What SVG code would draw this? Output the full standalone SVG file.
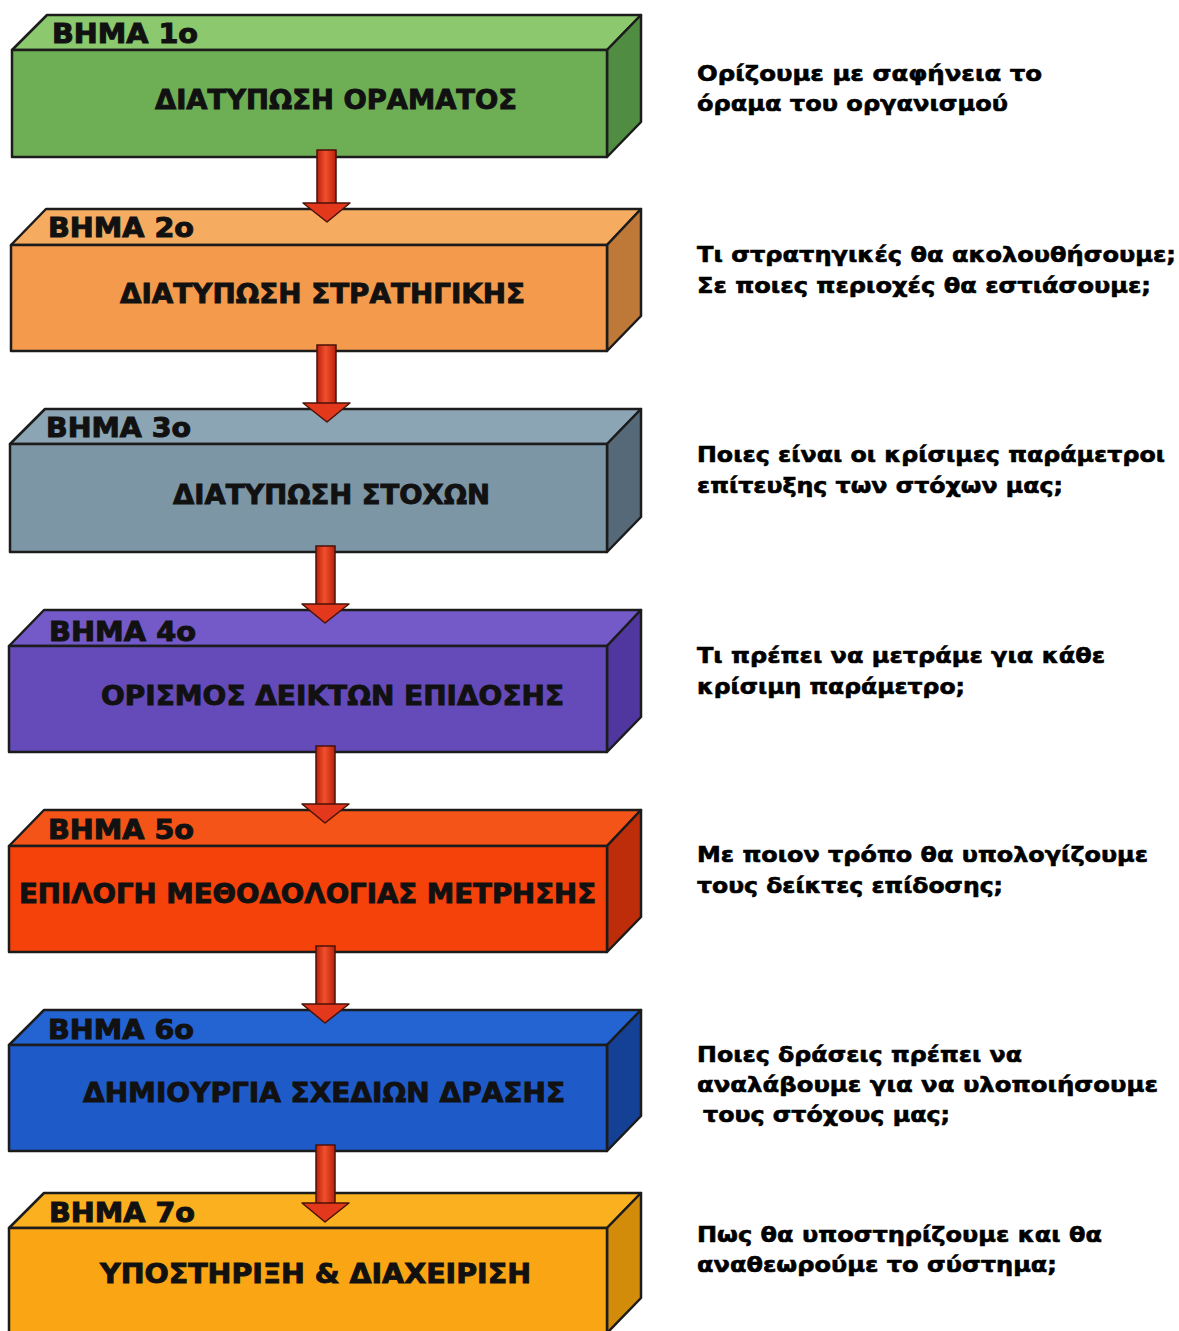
<svg xmlns="http://www.w3.org/2000/svg" width="1179" height="1331" viewBox="0 0 1179 1331">
  <defs>
    <linearGradient id="shaftGrad" x1="0" y1="0" x2="1" y2="0">
      <stop offset="0" stop-color="#b8200c"/>
      <stop offset="0.45" stop-color="#f2502c"/>
      <stop offset="1" stop-color="#b8200c"/>
    </linearGradient>
  </defs>
  <style>
    .edge { stroke: #1c1c1c; stroke-width: 2.5; stroke-linejoin: round; }
    .step { font-family: "DejaVu Sans", "Liberation Sans", sans-serif; font-weight: bold; font-size: 27px; fill: #111; stroke: #111; stroke-width: 1; }
    .title { font-family: "DejaVu Sans", "Liberation Sans", sans-serif; font-weight: bold; font-size: 26px; fill: #111; stroke: #111; stroke-width: 0.9; }
    .note { font-family: "DejaVu Sans", "Liberation Sans", sans-serif; font-weight: bold; font-size: 21px; fill: #000; stroke: #000; stroke-width: 0.6; }
    .shaft { fill: url(#shaftGrad); stroke: #4a1208; stroke-width: 1.5; }
    .head { fill: #e4381c; stroke: #4a1208; stroke-width: 1.5; stroke-linejoin: round; }
  </style>

  <rect width="1179" height="1331" fill="#ffffff"/>

  <!-- Step 1 -->
  <g id="step1">
    <polygon class="edge" fill="#8cc86e" points="12,50 47,15 641,15 607,50"/>
    <polygon class="edge" fill="#508c41" points="607,50 641,15 641,122 607,157"/>
    <rect class="edge" fill="#6eaf55" x="12" y="50" width="595" height="107"/>
    <text class="step" x="52" y="43" textLength="146" lengthAdjust="spacingAndGlyphs">ΒΗΜΑ 1ο</text>
    <text class="title" x="155" y="109" textLength="362" lengthAdjust="spacingAndGlyphs">ΔΙΑΤΥΠΩΣΗ ΟΡΑΜΑΤΟΣ</text>
  </g>

  <!-- Step 2 -->
  <g id="step2">
    <polygon class="edge" fill="#f5ac60" points="11,245 46,209 641,209 607,245"/>
    <polygon class="edge" fill="#be7838" points="607,245 641,209 641,316 607,351"/>
    <rect class="edge" fill="#f39a4c" x="11" y="245" width="596" height="106"/>
    <text class="step" x="48" y="237" textLength="146" lengthAdjust="spacingAndGlyphs">ΒΗΜΑ 2ο</text>
    <text class="title" x="120" y="303" textLength="405" lengthAdjust="spacingAndGlyphs">ΔΙΑΤΥΠΩΣΗ ΣΤΡΑΤΗΓΙΚΗΣ</text>
  </g>

  <!-- Step 3 -->
  <g id="step3">
    <polygon class="edge" fill="#8ca5b4" points="10,444 45,409 641,409 607,444"/>
    <polygon class="edge" fill="#556978" points="607,444 641,409 641,517 607,552"/>
    <rect class="edge" fill="#7d96a5" x="10" y="444" width="597" height="108"/>
    <text class="step" x="46" y="437" textLength="145" lengthAdjust="spacingAndGlyphs">ΒΗΜΑ 3ο</text>
    <text class="title" x="173" y="504" textLength="317" lengthAdjust="spacingAndGlyphs">ΔΙΑΤΥΠΩΣΗ ΣΤΟΧΩΝ</text>
  </g>

  <!-- Step 4 -->
  <g id="step4">
    <polygon class="edge" fill="#735ac8" points="9,646 44,610 641,610 607,646"/>
    <polygon class="edge" fill="#5037a0" points="607,646 641,610 641,717 607,752"/>
    <rect class="edge" fill="#644bb9" x="9" y="646" width="598" height="106"/>
    <text class="step" x="49" y="641" textLength="147" lengthAdjust="spacingAndGlyphs">ΒΗΜΑ 4ο</text>
    <text class="title" x="101" y="705" textLength="463" lengthAdjust="spacingAndGlyphs">ΟΡΙΣΜΟΣ ΔΕΙΚΤΩΝ ΕΠΙΔΟΣΗΣ</text>
  </g>

  <!-- Step 5 -->
  <g id="step5">
    <polygon class="edge" fill="#f55418" points="9,846 44,810 641,810 607,846"/>
    <polygon class="edge" fill="#be2d0a" points="607,846 641,810 641,917 607,952"/>
    <rect class="edge" fill="#f5410a" x="9" y="846" width="598" height="106"/>
    <text class="step" x="48" y="839" textLength="146" lengthAdjust="spacingAndGlyphs">ΒΗΜΑ 5ο</text>
    <text class="title" x="19" y="903" textLength="577" lengthAdjust="spacingAndGlyphs">ΕΠΙΛΟΓΗ ΜΕΘΟΔΟΛΟΓΙΑΣ ΜΕΤΡΗΣΗΣ</text>
  </g>

  <!-- Step 6 -->
  <g id="step6">
    <polygon class="edge" fill="#2364d2" points="9,1045 44,1010 641,1010 607,1045"/>
    <polygon class="edge" fill="#144196" points="607,1045 641,1010 641,1116 607,1151"/>
    <rect class="edge" fill="#1e5ac8" x="9" y="1045" width="598" height="106"/>
    <text class="step" x="48" y="1039" textLength="146" lengthAdjust="spacingAndGlyphs">ΒΗΜΑ 6ο</text>
    <text class="title" x="83" y="1102" textLength="482" lengthAdjust="spacingAndGlyphs">ΔΗΜΙΟΥΡΓΙΑ ΣΧΕΔΙΩΝ ΔΡΑΣΗΣ</text>
  </g>

  <!-- Step 7 -->
  <g id="step7">
    <polygon class="edge" fill="#fbb020" points="9,1228 44,1193 641,1193 607,1228"/>
    <polygon class="edge" fill="#d28c0a" points="607,1228 641,1193 641,1298 607,1333"/>
    <rect class="edge" fill="#faa514" x="9" y="1228" width="598" height="106"/>
    <text class="step" x="49" y="1222" textLength="146" lengthAdjust="spacingAndGlyphs">ΒΗΜΑ 7ο</text>
    <text class="title" x="100" y="1283" textLength="431" lengthAdjust="spacingAndGlyphs">ΥΠΟΣΤΗΡΙΞΗ &amp; ΔΙΑΧΕΙΡΙΣΗ</text>
  </g>

  <!-- Connectors: downward arrows between consecutive steps -->
  <g id="connectors">
    <rect class="shaft" x="317" y="150" width="19" height="54"/>
    <polygon class="head" points="303,203 350,203 327,222"/>

    <rect class="shaft" x="317" y="345" width="19" height="59"/>
    <polygon class="head" points="303,403 350,403 327,422"/>

    <rect class="shaft" x="316" y="546" width="19" height="59"/>
    <polygon class="head" points="302,604 349,604 325,623"/>

    <rect class="shaft" x="316" y="746" width="19" height="59"/>
    <polygon class="head" points="302,804 349,804 325,823"/>

    <rect class="shaft" x="316" y="946" width="19" height="59"/>
    <polygon class="head" points="302,1004 349,1004 325,1023"/>

    <rect class="shaft" x="316" y="1145" width="19" height="59"/>
    <polygon class="head" points="302,1203 349,1203 325,1222"/>
  </g>

  <!-- Explanatory notes beside each step -->
  <g id="notes">
    <text class="note" x="697" y="81" textLength="345" lengthAdjust="spacingAndGlyphs">Ορίζουμε με σαφήνεια το</text>
    <text class="note" x="697" y="111" textLength="311" lengthAdjust="spacingAndGlyphs">όραμα του οργανισμού</text>

    <text class="note" x="697" y="262" textLength="479" lengthAdjust="spacingAndGlyphs">Τι στρατηγικές θα ακολουθήσουμε;</text>
    <text class="note" x="697" y="293" textLength="454" lengthAdjust="spacingAndGlyphs">Σε ποιες περιοχές θα εστιάσουμε;</text>

    <text class="note" x="697" y="462" textLength="468" lengthAdjust="spacingAndGlyphs">Ποιες είναι οι κρίσιμες παράμετροι</text>
    <text class="note" x="697" y="493" textLength="366" lengthAdjust="spacingAndGlyphs">επίτευξης των στόχων μας;</text>

    <text class="note" x="697" y="663" textLength="408" lengthAdjust="spacingAndGlyphs">Τι πρέπει να μετράμε για κάθε</text>
    <text class="note" x="697" y="694" textLength="268" lengthAdjust="spacingAndGlyphs">κρίσιμη παράμετρο;</text>

    <text class="note" x="697" y="862" textLength="451" lengthAdjust="spacingAndGlyphs">Με ποιον τρόπο θα υπολογίζουμε</text>
    <text class="note" x="697" y="893" textLength="306" lengthAdjust="spacingAndGlyphs">τους δείκτες επίδοσης;</text>

    <text class="note" x="697" y="1062" textLength="325" lengthAdjust="spacingAndGlyphs">Ποιες δράσεις πρέπει να</text>
    <text class="note" x="697" y="1092" textLength="461" lengthAdjust="spacingAndGlyphs">αναλάβουμε για να υλοποιήσουμε</text>
    <text class="note" x="703" y="1122" textLength="247" lengthAdjust="spacingAndGlyphs">τους στόχους μας;</text>

    <text class="note" x="697" y="1242" textLength="405" lengthAdjust="spacingAndGlyphs">Πως θα υποστηρίζουμε και θα</text>
    <text class="note" x="697" y="1272" textLength="360" lengthAdjust="spacingAndGlyphs">αναθεωρούμε το σύστημα;</text>
  </g>
</svg>
